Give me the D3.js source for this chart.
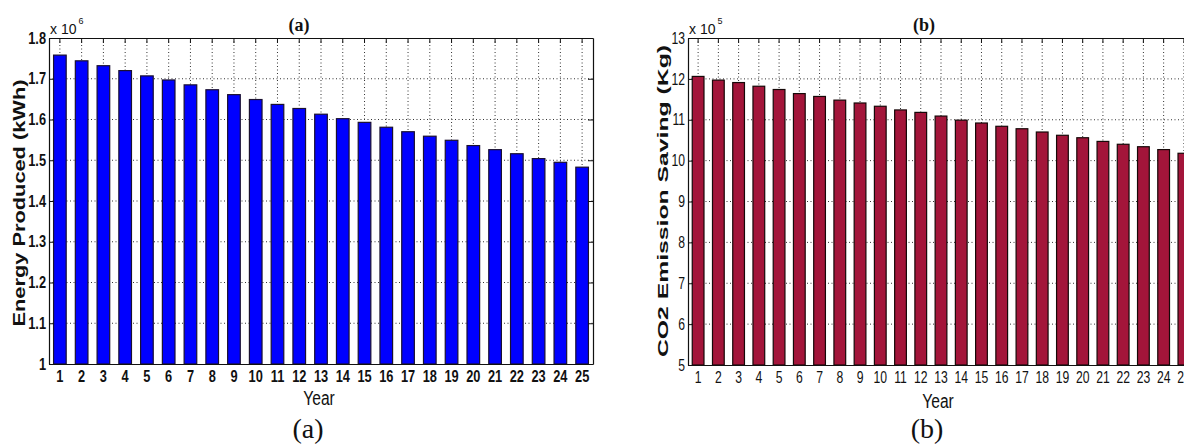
<!DOCTYPE html>
<html>
<head>
<meta charset="utf-8">
<script src="https://cdn.jsdelivr.net/npm/d3@7"></script>
<style>
  body { margin: 0; background: #fff; }
  svg { display: block; }
</style>
</head>
<body>
<svg id="fig" width="1184" height="445"></svg>
<script>
// Year of operation
const years = [1, 2, 3, 4, 5, 6, 7, 8, 9, 10, 11, 12, 13, 14, 15, 16, 17, 18, 19, 20, 21, 22, 23, 24, 25];

// Annual energy produced, in units of 10^6 kWh
const energyProduced = [1.758, 1.744, 1.732, 1.720, 1.707, 1.697, 1.685, 1.673, 1.661, 1.649,
                        1.637, 1.627, 1.613, 1.602, 1.593, 1.581, 1.570, 1.559, 1.549, 1.536,
                        1.526, 1.516, 1.504, 1.495, 1.483];

// Annual CO2 emission saving, in units of 10^5 kg
const co2Saving = [12.06, 11.97, 11.91, 11.82, 11.74, 11.64, 11.57, 11.48, 11.41, 11.33,
                   11.24, 11.18, 11.09, 10.99, 10.92, 10.84, 10.78, 10.70, 10.62, 10.56,
                   10.47, 10.40, 10.34, 10.27, 10.18];

const energyTicks = [1, 1.1, 1.2, 1.3, 1.4, 1.5, 1.6, 1.7, 1.8];
const energyTickLabels = ["1", "1.1", "1.2", "1.3", "1.4", "1.5", "1.6", "1.7", "1.8"];
const co2Ticks = [5, 6, 7, 8, 9, 10, 11, 12, 13];
const co2TickLabels = ["5", "6", "7", "8", "9", "10", "11", "12", "13"];

const svg = d3.select("#fig");
const SANS = "'Liberation Sans', Arial, sans-serif";
const SERIF = "'Liberation Serif', 'Times New Roman', serif";

// condense text horizontally (tall, narrow lettering)
function squeeze(sel, factor) {
  sel.each(function () {
    const w = this.getComputedTextLength();
    if (w > 0) {
      d3.select(this).attr("textLength", w * factor).attr("lengthAdjust", "spacingAndGlyphs");
    }
  });
}

function drawPanel(p) {
  const g = svg.append("g");
  const x = d3.scaleBand().domain(p.categories).range([p.left, p.right])
    .paddingInner(0.42).paddingOuter(0.21);
  const y = d3.scaleLinear().domain([p.ticks[0], p.ticks[p.ticks.length - 1]])
    .range([p.bottom, p.top]);

  // dotted grid
  const grid = g.append("g").attr("stroke", "#333").attr("stroke-width", 1)
    .attr("stroke-dasharray", "1,2.5");
  grid.selectAll("line.v").data(p.categories).join("line").attr("class", "v")
    .attr("x1", d => x(d) + x.bandwidth() / 2).attr("x2", d => x(d) + x.bandwidth() / 2)
    .attr("y1", p.top).attr("y2", p.bottom);
  grid.selectAll("line.h").data(p.ticks.slice(1, -1)).join("line").attr("class", "h")
    .attr("x1", p.left).attr("x2", p.right)
    .attr("y1", d => y(d)).attr("y2", d => y(d));

  // bars
  g.append("g").selectAll("rect").data(p.values).join("rect")
    .attr("x", (d, i) => x(p.categories[i]))
    .attr("width", x.bandwidth())
    .attr("y", d => y(d))
    .attr("height", d => y(p.ticks[0]) - y(d))
    .attr("fill", p.fill)
    .attr("stroke", p.edge)
    .attr("stroke-width", 1.2);

  // axes via d3 axis generators (inward ticks)
  const fmt = d => p.tickLabels[p.ticks.indexOf(d)];
  const axL = g.append("g").attr("transform", `translate(${p.left},0)`)
    .call(d3.axisLeft(y).tickValues(p.ticks).tickFormat(fmt).tickSizeInner(-5).tickSizeOuter(0).tickPadding(3));
  const axR = g.append("g").attr("transform", `translate(${p.right},0)`)
    .call(d3.axisRight(y).tickValues(p.ticks).tickFormat("").tickSizeInner(-5).tickSizeOuter(0));
  const axB = g.append("g").attr("transform", `translate(0,${p.bottom})`)
    .call(d3.axisBottom(x).tickSizeInner(-5).tickSizeOuter(0).tickPadding(7));
  const axT = g.append("g").attr("transform", `translate(0,${p.top})`)
    .call(d3.axisTop(x).tickFormat("").tickSizeInner(-5).tickSizeOuter(0));

  [axL, axR, axB, axT].forEach(a => {
    a.select(".domain").attr("stroke", "#111").attr("stroke-width", 1.2);
    a.selectAll(".tick line").attr("stroke", "#111").attr("stroke-width", 1);
  });
  [axL, axB].forEach(a => {
    a.selectAll("text").attr("font-family", SANS).attr("font-size", p.tickSize)
      .attr("font-weight", p.tickWeight).attr("fill", "#111");
    squeeze(a.selectAll("text"), p.tickSqueeze);
  });
  axB.selectAll(".tick line").attr("stroke", "none");

  // exponent multiplier: "x 10" with a raised power
  const base = g.append("text").attr("x", p.left + 1).attr("y", p.top - 4)
    .attr("font-family", SANS).attr("font-size", 14).attr("fill", "#111").text("x 10");
  const bw = base.node().getComputedTextLength();
  g.append("text").attr("x", p.left + 3 + bw).attr("y", p.top - 14)
    .attr("font-family", SANS).attr("font-size", 9).attr("fill", "#111").text(p.exponent);

  // panel title
  g.append("text").attr("x", p.titleX).attr("y", 31).attr("text-anchor", "middle")
    .attr("font-family", SERIF).attr("font-weight", "bold").attr("font-size", 18)
    .attr("fill", "#111").text(p.title);

  // axis titles
  const xl = g.append("text").attr("x", p.xLabelX).attr("y", p.xLabelY).attr("text-anchor", "middle")
    .attr("font-family", SANS).attr("font-size", 20).attr("fill", "#111").text("Year");
  squeeze(xl, 0.78);

  g.append("text")
    .attr("transform", `translate(${p.yLabelX},${p.yLabelY}) rotate(-90)`)
    .attr("text-anchor", "middle")
    .attr("font-family", SANS).attr("font-weight", "bold").attr("font-size", p.yLabelSize)
    .attr("textLength", p.yLabelLength).attr("lengthAdjust", "spacingAndGlyphs")
    .attr("fill", "#111").text(p.yLabel);

  // figure caption
  g.append("text").attr("x", p.captionX).attr("y", 438).attr("text-anchor", "middle")
    .attr("font-family", SERIF).attr("font-size", 28).attr("fill", "#111").text(p.title);
}

drawPanel({
  categories: years, values: energyProduced,
  ticks: energyTicks, tickLabels: energyTickLabels,
  left: 49, right: 593, top: 38, bottom: 364,
  fill: "#0000ff", edge: "#1a1030",
  tickSize: 16, tickWeight: "bold", tickSqueeze: 0.8, exponent: "6",
  title: "(a)", titleX: 299,
  xLabelX: 319, xLabelY: 405,
  yLabel: "Energy Produced (kWh)", yLabelX: 25, yLabelY: 203, yLabelSize: 17, yLabelLength: 247,
  captionX: 308
});

drawPanel({
  categories: years, values: co2Saving,
  ticks: co2Ticks, tickLabels: co2TickLabels,
  left: 688, right: 1194, top: 38, bottom: 365,
  fill: "#a3153a", edge: "#160808",
  tickSize: 16, tickWeight: "normal", tickSqueeze: 0.76, exponent: "5",
  title: "(b)", titleX: 924,
  xLabelX: 938, xLabelY: 408,
  yLabel: "CO2 Emission Saving (Kg)", yLabelX: 668, yLabelY: 201, yLabelSize: 15, yLabelLength: 312,
  captionX: 927
});
</script>
</body>
</html>
